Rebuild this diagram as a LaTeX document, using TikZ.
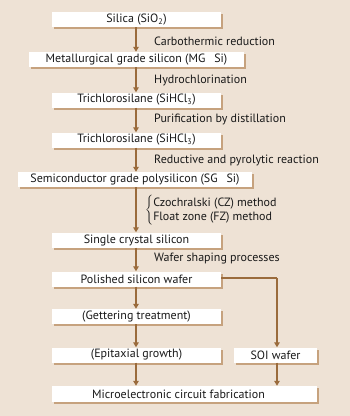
\documentclass[tikz,border=0pt]{standalone}
\usepackage{fontspec}
\setmainfont{PT Sans}
\usetikzlibrary{arrows.meta,shadows}
\definecolor{bg}{HTML}{EEE2D5}
\definecolor{linec}{HTML}{9A6B3C}
\definecolor{shadc}{HTML}{C6A27E}
\tikzset{
  box/.style={fill=white, draw=none, minimum height=15pt, inner sep=0pt,
    font=\fontsize{12}{12}\selectfont, text=black!90,
    drop shadow={shadow xshift=2pt, shadow yshift=-2pt, fill=shadc, opacity=1}},
  lab/.style={anchor=west, inner sep=0pt, font=\fontsize{12}{12}\selectfont, text=black!90},
  conn/.style={draw=linec, line width=1.6pt, -{Triangle[length=5pt,width=5.5pt]}},
  plain/.style={draw=linec, line width=1.6pt}
}
\begin{document}
\begin{tikzpicture}[x=1pt,y=-1pt]
\fill[bg] (0,0) rectangle (350,416);
\useasboundingbox (0,0) rectangle (350,416);
\node[box, minimum width=169pt] (silica) at (136.5,19.5) {Silica (SiO\textsubscript{2})};
\node[box, minimum width=215pt] (mg) at (136.5,59.5) {Metallurgical grade silicon (MG\hspace{9pt}Si)};
\node[box, minimum width=169pt] (tcs1) at (136.5,100) {Trichlorosilane (SiHCl\textsubscript{3})};
\node[box, minimum width=169pt] (tcs2) at (136.5,140) {Trichlorosilane (SiHCl\textsubscript{3})};
\node[box, minimum width=234pt] (sg) at (135,179.5) {Semiconductor grade polysilicon (SG\hspace{9pt}Si)};
\node[box, minimum width=169pt] (scs) at (136.5,240) {Single crystal silicon};
\node[box, minimum width=169pt] (pol) at (136.5,279) {Polished silicon wafer};
\node[box, minimum width=169pt] (get) at (136.5,316.5) {(Gettering treatment)};
\node[box, minimum width=169pt] (epi) at (136.5,355) {(Epitaxial growth)};
\node[box, minimum width=83pt] (soi) at (275.5,355) {SOI wafer};
\node[box, minimum width=265pt, minimum height=16pt] (mic) at (184.5,394) {\hspace{-12pt}Microelectronic circuit fabrication};
\foreach \a/\b in {silica/mg, mg/tcs1, tcs1/tcs2, tcs2/sg, sg/scs, scs/pol, pol/get, get/epi}
  \draw[conn] (\a.south -| 136,0) -- (\b.north -| 136,0);
\draw[conn] (epi.south -| 136,0) -- (mic.north -| 136,0);
\coordinate (corner) at (277,278);
\draw[plain] (pol.east |- corner) -- (corner);
\draw[conn] (corner) -- (soi.north -| corner);
\draw[conn] (soi.south -| corner) -- (mic.north -| corner);
\node[lab] (l1) at (154,41) {Carbothermic reduction};
\node[lab] (l2) at (154,80) {Hydrochlorination};
\node[lab] (l3) at (154,119) {Purification by distillation};
\node[lab] (l4) at (154,160) {Reductive and pyrolytic reaction};
\node[lab] (l5) at (145,210.5) {$\left\{\vcenter{\hbox{\fontsize{12}{15}\selectfont\begin{tabular}{@{}l@{}}Czochralski (CZ) method\\[-1.5pt]Float zone (FZ) method\end{tabular}}}\right.$};
\node[lab] (l7) at (154,259) {Wafer shaping processes};
\end{tikzpicture}
\end{document}
